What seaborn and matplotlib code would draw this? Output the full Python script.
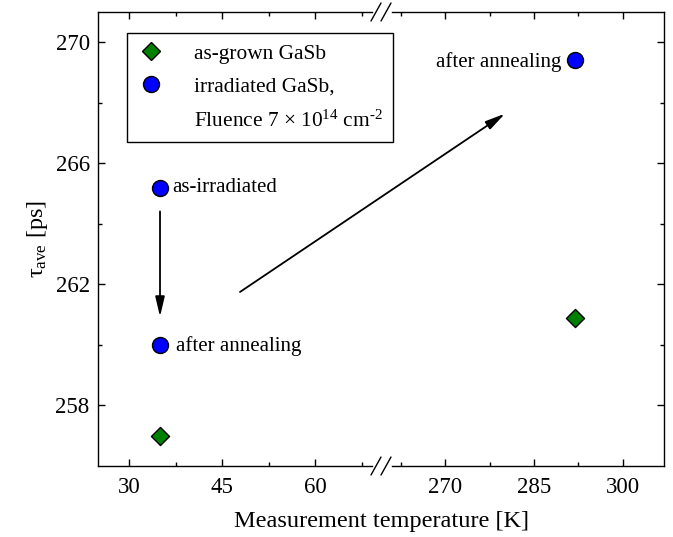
import matplotlib
matplotlib.use("Agg")
import matplotlib.pyplot as plt
import seaborn as sns
from matplotlib.lines import Line2D

# data
temp_grown = [35, 292]
tau_grown = [257.0, 260.9]
temp_irr = [35, 35, 292]
tau_irr = [265.2, 260.0, 269.4]

left_xticks = [30, 45, 60]
right_xticks = [270, 285, 300]
yticks = [258, 262, 266, 270]

left_xlim = (25, 70.8)
right_xlim = (259.3, 307)
ylim = (256, 271)

sns.set_theme(style="ticks")
plt.rcParams["font.family"] = ["Liberation Serif", "DejaVu Serif"]
plt.rcParams["mathtext.fontset"] = "custom"
plt.rcParams["mathtext.rm"] = "Liberation Serif"
plt.rcParams["mathtext.it"] = "Liberation Serif:italic"
plt.rcParams["axes.edgecolor"] = "black"
plt.rcParams["axes.linewidth"] = 1.0
plt.rcParams["text.color"] = "black"
plt.rcParams["axes.labelcolor"] = "black"
plt.rcParams["xtick.color"] = "black"
plt.rcParams["ytick.color"] = "black"

W, H = 673, 537
fig = plt.figure(figsize=(W / 100, H / 100), dpi=100)


def fx(px):
    return px / W


def fy(py):
    return 1 - py / H


ax1 = fig.add_axes([fx(98), fy(466), fx(382) - fx(98), fy(12) - fy(466)])
ax2 = fig.add_axes([fx(382), fy(466), fx(664) - fx(382), fy(12) - fy(466)])
ax2.patch.set_alpha(0)

green = "#008000"
blue = "#0000ff"

for ax in (ax1, ax2):
    sns.scatterplot(x=temp_grown, y=tau_grown, marker="D", s=85, color=green,
                    edgecolor="black", linewidth=1, ax=ax, zorder=3)
    sns.scatterplot(x=temp_irr, y=tau_irr, marker="o", s=132, color=blue,
                    edgecolor="black", linewidth=1, ax=ax, zorder=3)
    ax.set_ylim(ylim)
    ax.set_yticks(yticks)
    ax.set_yticks([260, 264, 268], minor=True)
    ax.tick_params(which="major", direction="in", length=5, width=1,
                   labelsize=16.5, pad=6)
    ax.tick_params(axis="x", which="major", pad=8)
    ax.tick_params(which="minor", direction="in", length=3, width=1)
    ax.set_xlabel("")
    ax.set_ylabel("")

ax1.set_xlim(left_xlim)
ax1.set_xticks(left_xticks)
ax1.set_xticks([37.5, 52.5, 67.5], minor=True)
ax1.tick_params(which="both", top=True, right=False, left=True)
ax1.spines["right"].set_visible(False)
ax1.spines["top"].set_bounds(left_xlim[0], 69.2)
ax1.spines["bottom"].set_bounds(left_xlim[0], 69.2)

ax2.set_xlim(right_xlim)
ax2.set_xticks(right_xticks)
ax2.set_xticks([262.5, 277.5, 292.5], minor=True)
ax2.tick_params(which="both", top=True, right=True, left=False, labelleft=False)
ax2.spines["left"].set_visible(False)
ax2.spines["top"].set_bounds(261.0, right_xlim[1])
ax2.spines["bottom"].set_bounds(261.0, right_xlim[1])

# break marks
for ys in (466, 12):
    for dx in (0, 10):
        fig.add_artist(Line2D([fx(371 + dx), fx(381 + dx)], [fy(ys + 9), fy(ys - 9)],
                              color="black", lw=1.0))

arrow_style = dict(arrowstyle="-|>,head_length=0.6,head_width=0.14",
                   mutation_scale=20, lw=1.3, color="black", shrinkA=0, shrinkB=0)
ax1.annotate("", xy=(35, 260.93), xytext=(35, 264.41), arrowprops=arrow_style)
ax2.annotate("", xy=(280.1, 267.64), xytext=(47.9, 261.75),
             textcoords=ax1.transData, arrowprops=arrow_style, annotation_clip=False)

ax1.text(36.9, 265.2, "as-irradiated", fontsize=15, va="center")
ax1.text(37.5, 259.95, "after annealing", fontsize=15, va="center")
ax2.text(289.6, 269.35, "after annealing", fontsize=15, va="center", ha="right")

handles = [
    Line2D([], [], ls="none", marker="D", ms=9.2, mfc=green, mec="black", mew=1),
    Line2D([], [], ls="none", marker="o", ms=11.5, mfc=blue, mec="black", mew=1),
    Line2D([], [], ls="none"),
]
labels = ["as-grown GaSb", "irradiated GaSb,",
          "Fluence 7 \u00d7 10$^{14}$ cm$^{\\text{-}2}$"]
leg = fig.legend(handles, labels, loc="upper left", bbox_to_anchor=(fx(127), fy(33)),
                 borderaxespad=0, frameon=True, fancybox=False, edgecolor="black",
                 framealpha=1, fontsize=15.4, handlelength=1.2, handletextpad=1.42,
                 borderpad=0.5, labelspacing=0.62)
leg.get_frame().set_linewidth(1.0)

ax1.set_ylabel("\u03c4$_{\\rm ave}$ [ps]", fontsize=17.5)
fig.text(fx(381), fy(521), "Measurement temperature [K]", fontsize=17.5,
         ha="center", va="center")

fig.savefig("out.png", dpi=100)
